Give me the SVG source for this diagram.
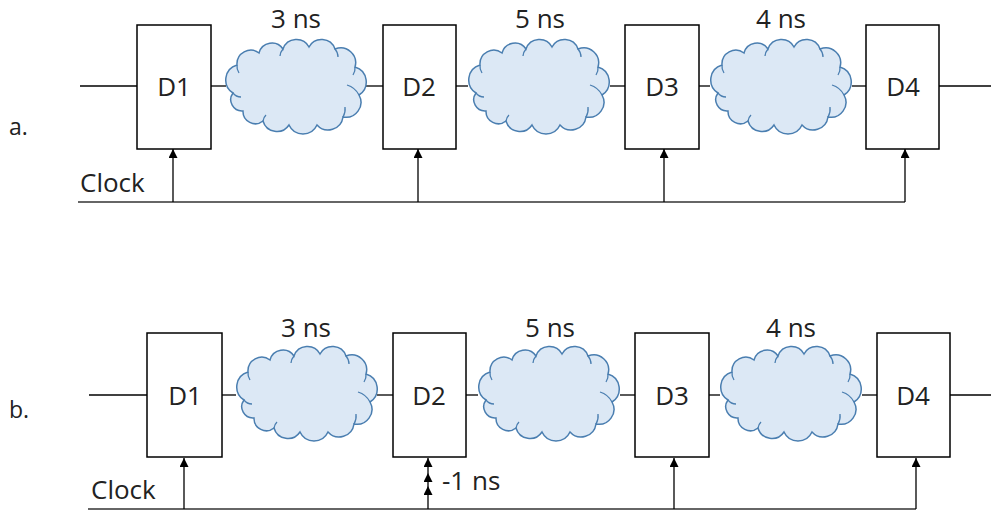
<svg xmlns="http://www.w3.org/2000/svg" width="991" height="510" viewBox="0 0 991 510">
<defs>
<style>
.box{fill:#fff;stroke:#000;stroke-width:1.5}
.w{stroke:#000;stroke-width:1.3;fill:none}
.clk{stroke:#333;stroke-width:1.6;fill:none}
.arr{stroke:#000;stroke-width:1.3;fill:none;marker-end:url(#ah)}
.cloud{fill:#dce8f5;stroke:#4a7eb0;stroke-width:1.5}
.curl{fill:none;stroke:#4a7eb0;stroke-width:1.3}
text{font-family:"Open Sans","Liberation Sans",sans-serif;font-size:26px;fill:#222}
.c{text-anchor:middle}
</style>
<marker id="ah" viewBox="0 0 10 10" refX="10" refY="5" markerWidth="9" markerHeight="9" markerUnits="userSpaceOnUse" orient="auto">
<path d="M0,0 L10,5 L0,10 z" fill="#000"/>
</marker>
<g id="cloudshape">
<path class="cloud" d="M8,56 A15.5,15.5 0 0 1 12,28 A13.8,13.8 0 0 1 34,16 A13.4,13.4 0 0 1 58,12 A14.3,14.3 0 0 1 84,10 A14.3,14.3 0 0 1 110,12 A14.9,14.9 0 0 1 130,30 A15.5,15.5 0 0 1 134,58 A15,15 0 0 1 118,80 A15,15 0 0 1 92,88 A15.4,15.4 0 0 1 64,88 A14.5,14.5 0 0 1 38,84 A12.3,12.3 0 0 1 18,74 A11.3,11.3 0 0 1 8,56 z"/>
<path class="curl" d="M8,56 A10,10 0 0 0 16,60"/>
<path class="curl" d="M12,28 A12,12 0 0 0 14,36"/>
<path class="curl" d="M118,80 A16,16 0 0 0 120,70"/>
<path class="curl" d="M134,58 A20,20 0 0 0 122,48"/>
<path class="curl" d="M130,30 A12,12 0 0 1 128,38"/>
<path class="curl" d="M110,12 A12,12 0 0 1 113,20"/>
<path class="curl" d="M58,12 A12,12 0 0 0 55,19"/>
<path class="curl" d="M38,84 A10,10 0 0 1 41,78"/>
</g>
</defs>

<!-- Part a -->
<text x="9" y="135" style="font-size:23px">a.</text>
<g id="connectors-a">
<line class="w" x1="80" y1="86" x2="137" y2="86"/>
<line class="w" x1="211" y1="86" x2="226" y2="86"/>
<line class="w" x1="366" y1="86" x2="383" y2="86"/>
<line class="w" x1="456" y1="86" x2="468" y2="86"/>
<line class="w" x1="610" y1="86" x2="625" y2="86"/>
<line class="w" x1="699" y1="86" x2="710" y2="86"/>
<line class="w" x1="852" y1="86" x2="866" y2="86"/>
<line class="w" x1="939" y1="86" x2="991" y2="86"/>
<polyline class="clk" points="78,202 905,202"/>
<line class="arr" x1="173" y1="202" x2="173" y2="149"/>
<line class="arr" x1="418" y1="202" x2="418" y2="149"/>
<line class="arr" x1="664" y1="202" x2="664" y2="149"/>
<line class="arr" x1="905" y1="202" x2="905" y2="149"/>
</g>
<g id="a-clock"><text x="80" y="192">Clock</text></g>
<g id="a-D1"><rect class="box" x="137" y="25" width="74" height="124"/><text class="c" x="174" y="96">D1</text></g>
<g id="a-D2"><rect class="box" x="383" y="25" width="73" height="124"/><text class="c" x="419" y="96">D2</text></g>
<g id="a-D3"><rect class="box" x="625" y="25" width="74" height="124"/><text class="c" x="662" y="96">D3</text></g>
<g id="a-D4"><rect class="box" x="866" y="25" width="73" height="124"/><text class="c" x="903" y="96">D4</text></g>
<g id="a-C1"><use href="#cloudshape" transform="translate(225,37)"/><text class="c" x="296" y="28">3 ns</text></g>
<g id="a-C2"><use href="#cloudshape" transform="translate(468,37)"/><text class="c" x="540" y="28">5 ns</text></g>
<g id="a-C3"><use href="#cloudshape" transform="translate(710,37)"/><text class="c" x="781" y="28">4 ns</text></g>

<!-- Part b -->
<text x="9" y="418" style="font-size:23px">b.</text>
<g id="connectors-b">
<line class="w" x1="89" y1="395" x2="147" y2="395"/>
<line class="w" x1="222" y1="395" x2="236" y2="395"/>
<line class="w" x1="377" y1="395" x2="393" y2="395"/>
<line class="w" x1="466" y1="395" x2="478" y2="395"/>
<line class="w" x1="620" y1="395" x2="635" y2="395"/>
<line class="w" x1="709" y1="395" x2="720" y2="395"/>
<line class="w" x1="862" y1="395" x2="877" y2="395"/>
<line class="w" x1="950" y1="395" x2="991" y2="395"/>
<polyline class="clk" points="88,509 916,509"/>
<line class="arr" x1="184" y1="509" x2="184" y2="458"/>
<polyline class="arr" style="marker-mid:url(#ah)" points="428,509 428,486 428,473 428,458"/>
<line class="arr" x1="674" y1="509" x2="674" y2="458"/>
<line class="arr" x1="916" y1="509" x2="916" y2="458"/>
</g>
<g id="b-clock"><text x="91" y="499">Clock</text></g>
<g id="b-delay"><text x="442" y="490">-1 ns</text></g>
<g id="b-D1"><rect class="box" x="147" y="333" width="75" height="124"/><text class="c" x="185" y="405">D1</text></g>
<g id="b-D2"><rect class="box" x="393" y="333" width="73" height="124"/><text class="c" x="429" y="405">D2</text></g>
<g id="b-D3"><rect class="box" x="635" y="333" width="74" height="124"/><text class="c" x="672" y="405">D3</text></g>
<g id="b-D4"><rect class="box" x="877" y="333" width="73" height="124"/><text class="c" x="913" y="405">D4</text></g>
<g id="b-C1"><use href="#cloudshape" transform="translate(236,344)"/><text class="c" x="306" y="337">3 ns</text></g>
<g id="b-C2"><use href="#cloudshape" transform="translate(478,344)"/><text class="c" x="550" y="337">5 ns</text></g>
<g id="b-C3"><use href="#cloudshape" transform="translate(720,344)"/><text class="c" x="791" y="337">4 ns</text></g>
</svg>
